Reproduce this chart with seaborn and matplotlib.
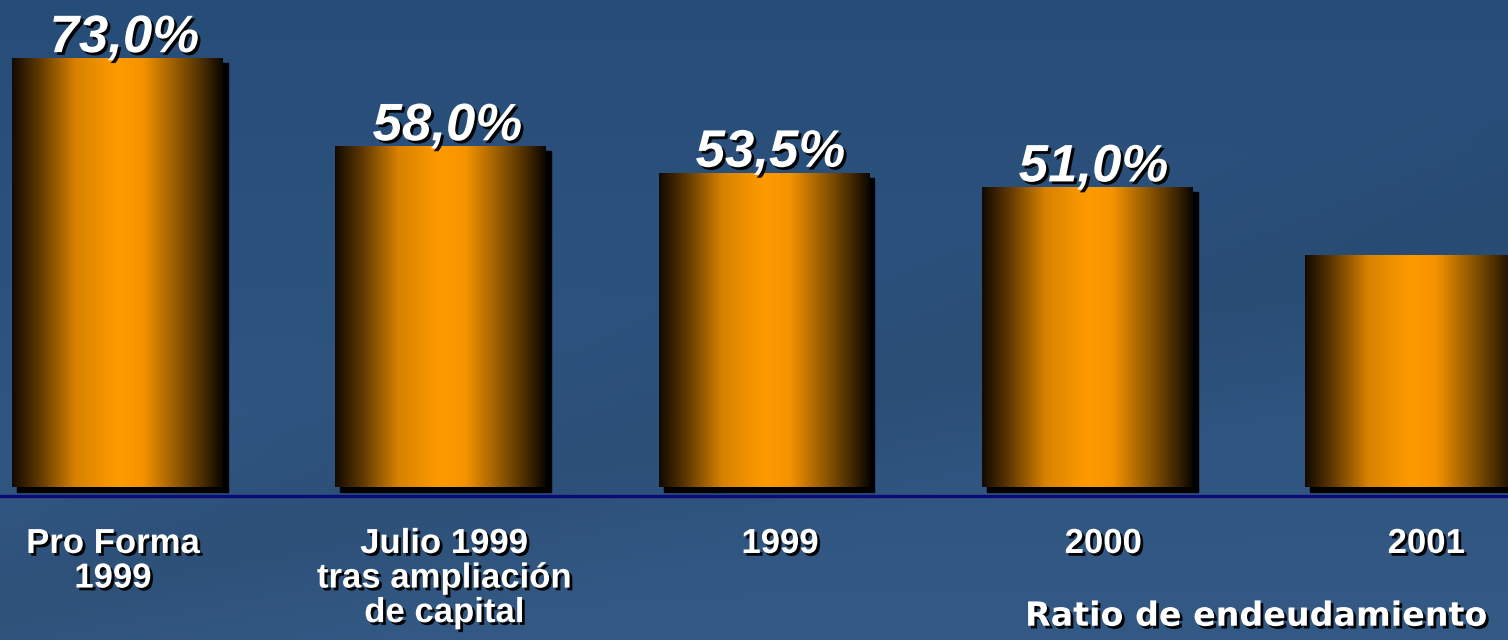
import numpy as np
import pandas as pd
import matplotlib
matplotlib.use("Agg")
import matplotlib.pyplot as plt
import matplotlib.patheffects as pe
from matplotlib.colors import LinearSegmentedColormap
from matplotlib.patches import Rectangle
import seaborn as sns

# data
categories = ["Pro Forma\n1999", "Julio 1999\ntras ampliación\nde capital", "1999", "2000", "2001"]
ratio = [73.0, 58.0, 53.5, 51.0, 39.5]
value_labels = ["73,0%", "58,0%", "53,5%", "51,0%", ""]
footer = "Ratio de endeudamiento"

sns.set_theme(style="white")
plt.rcParams["font.family"] = ["Liberation Sans", "DejaVu Sans"]

df = pd.DataFrame({"cat": categories, "ratio": ratio})

fig = plt.figure(figsize=(15.08, 6.4), dpi=100)
ax = fig.add_axes([0, 0, 1, 1])

# dark blue background, a bit lighter towards the bottom
yy, xx = np.mgrid[0:1:320j, 0:1:754j]  # yy = 0 at the top row
top = np.array([0.15, 0.30, 0.47])
bottom = np.array([0.20, 0.35, 0.52])
img = top * (1 - yy[..., None]) + bottom * yy[..., None]
band = np.exp(-((yy - (0.95 - 0.6 * xx)) ** 2) / 0.02)
img = img * (1 - 0.07 * band[..., None])
ax.imshow(np.clip(img, 0, 1), extent=(0, 1, 0, 1), transform=ax.transAxes,
          aspect="auto", zorder=0, origin="upper")

sns.barplot(data=df, x="cat", y="ratio", ax=ax, width=0.653, color="#ff9900",
            linewidth=0, zorder=3)

ax.set_xlim(-0.365, 4.303)
ax.set_ylim(-26.03, 82.87)
ax.set_axis_off()

# orange cylinder gradient + dropped shadow for each bar
grad = LinearSegmentedColormap.from_list("cyl", [
    (0.0, "#120a00"), (0.12, "#5a3500"), (0.3, "#d88200"), (0.5, "#ff9b00"),
    (0.62, "#f59300"), (0.8, "#8a5400"), (0.93, "#3a2300"), (1.0, "#0a0600")])
dx, dy = 5 / 323, 5 / 5.877
for p in ax.patches:
    x0, y0, w, h = p.get_x(), p.get_y(), p.get_width(), p.get_height()
    ax.add_patch(Rectangle((x0 + dx, y0 - dy), w, h, color="black", zorder=2))
    im = ax.imshow(np.linspace(0, 1, 256)[None, :], cmap=grad, aspect="auto",
                   extent=(x0, x0 + w, y0, y0 + h), zorder=4)
    im.set_clip_path(p)

ax.set_xlim(-0.365, 4.303)
ax.set_ylim(-26.03, 82.87)

# baseline
ax.axhline(-1.6, color="#0a0a78", lw=2.4, zorder=5)

shadow = [pe.SimplePatchShadow(offset=(2, -2), shadow_rgbFace="black", alpha=0.95), pe.Normal()]

# values on top of the bars
for i, (v, lab) in enumerate(zip(ratio, value_labels)):
    if lab:
        ax.text(i + 0.02, v + 1.0, lab, ha="center", va="baseline", fontsize=38,
                fontweight="bold", fontstyle="italic", color="white",
                path_effects=shadow, zorder=6)

# category labels under the axis line
xoff = [-0.015, 0.01, 0.05, 0.05, 0.05]
for i, c in enumerate(categories):
    ax.text(i + xoff[i], -6.8, c, ha="center", va="top", fontsize=25,
            fontweight="bold", color="white", linespacing=1.06,
            path_effects=shadow, zorder=6)

ax.text(4.24, -23.6, footer, ha="right", va="baseline", fontsize=24,
        fontweight="bold", color="white", family=["DejaVu Sans"],
        path_effects=shadow, zorder=6)

fig.savefig("out.png", dpi=100)
